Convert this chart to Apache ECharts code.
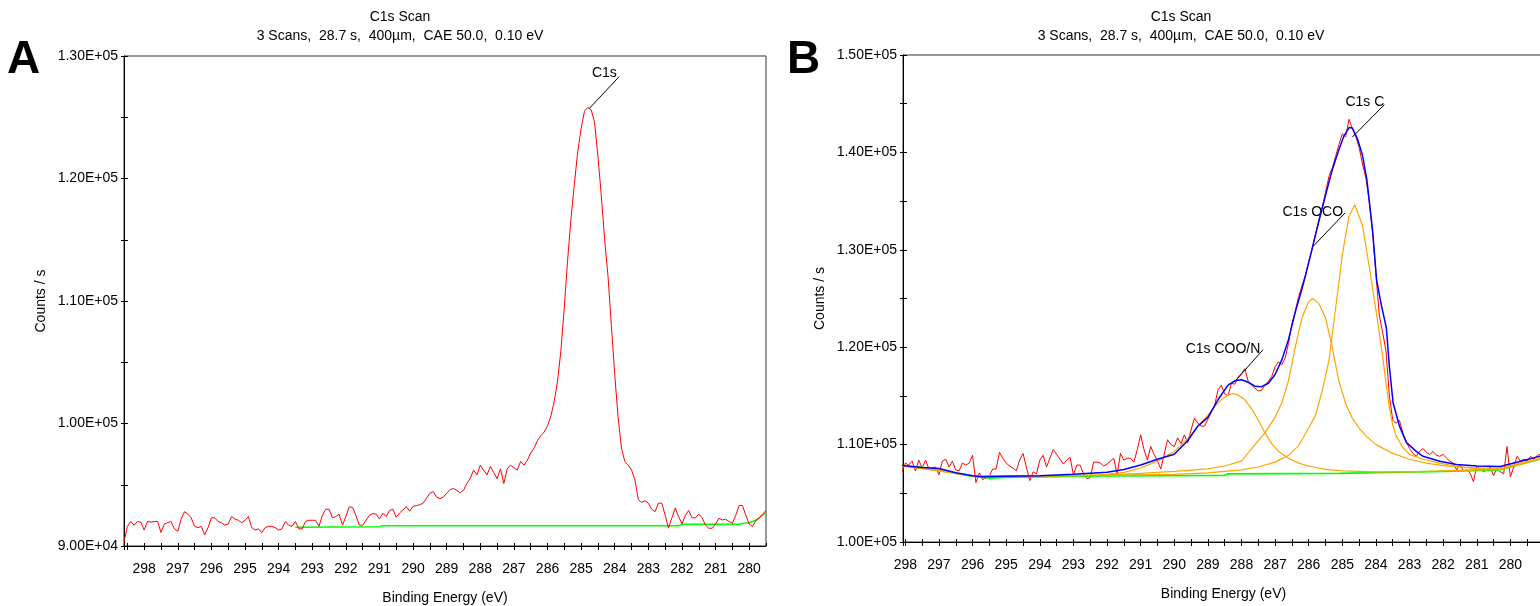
<!DOCTYPE html>
<html>
<head>
<meta charset="utf-8">
<title>C1s Scan</title>
<script src="https://cdn.jsdelivr.net/npm/echarts@6/dist/echarts.min.js"></script>
<style>
  html, body { margin: 0; padding: 0; background: #fff; }
  #chart { width: 1540px; height: 606px; }
</style>
</head>
<body>
<div id="chart"></div>
<script>
// 测量数据，0.10 eV 步长
var stepEV = 0.1;

// A：起点 298.6 eV
var startA = 298.6;
var countsA = [
  90350, 91600, 92000, 91700, 92000, 91950, 91300, 92000, 91950, 92000,
  92000, 91100, 91800, 91900, 92000, 91400, 91200, 92200, 92800, 92600,
  92300, 91600, 91500, 91600, 90900, 91500, 92300, 92300, 92000, 91900,
  91700, 91800, 92400, 92200, 92100, 91900, 92100, 92400, 91500, 91300,
  91400, 91100, 91500, 91600, 91600, 91500, 91300, 91400, 92000, 91700,
  91600, 92000, 91400, 91400, 92000, 92100, 92100, 92100, 91600, 92500,
  93000, 93000, 92300, 92400, 92600, 91700, 92400, 93200, 93150, 92500,
  91700, 91700, 92100, 92500, 92650, 92600, 92200, 92680, 92400, 92900,
  93000, 92350, 92700, 92950, 93200, 92850, 93250, 93300, 93360, 93500,
  93900, 94300, 94450, 94000, 93850, 94000, 94300, 94600, 94700, 94550,
  94350, 94550, 95100, 95500, 96200, 95800, 96600, 96200, 95800, 96500,
  96000, 95500, 96300, 95100, 96300, 96600, 96400, 96200, 96900, 96600,
  97000, 97600, 98000, 98600, 99000, 99300, 99800, 100600, 101800, 103500,
  106000, 109500, 113400, 116800, 119600, 122200, 124100, 125500, 125800, 125600,
  124600, 121800, 118600, 115000, 112000, 108000, 104000, 100500, 98000, 96900,
  96600, 96200, 95400, 93800, 93550, 93700, 93500, 93000, 92800, 93500,
  93500, 92500, 91450, 92300, 93100, 92400, 91800, 92500, 92900, 92300,
  92300, 92600, 92300, 91700, 91450, 91450, 91800, 92270, 92130, 92190,
  92000, 91860, 92500, 93300, 93300, 92500, 91800, 91600, 92100, 92300,
  92600, 92900
];
var backgroundA = [
  [293.5, 91530], [291.0, 91580], [290.9, 91660], [282.1, 91660], [282.0, 91780],
  [280.3, 91780], [280.2, 91830], [280.0, 91900], [279.8, 92100], [279.7, 92300], [279.5, 92750]
];

// B：起点 298.1 eV
var startB = 298.1;
var countsB = [
  107200, 108100, 107900, 108300, 107300, 108400, 107600, 108400, 107500, 107600,
  107700, 106900, 108300, 108500, 107700, 108300, 107400, 107300, 108100, 107900,
  108100, 108900, 106100, 107100, 106400, 106600, 106800, 107500, 107500, 109200,
  108600, 108100, 107800, 107600, 107300, 108400, 109100, 107700, 106300, 107200,
  107000, 108400, 108900, 107700, 108600, 109500, 109000, 108500, 108000, 108400,
  108700, 106900, 107900, 107900, 107000, 106500, 106600, 108200, 108200, 108100,
  107800, 108000, 108300, 108600, 106900, 109100, 108400, 108600, 108600, 108200,
  109500, 111000, 109500, 108400, 109800, 109000, 108300, 107500, 109000, 110500,
  110000, 109800, 110700, 110100, 111000, 110200, 111500, 112700, 112200, 111900,
  111900, 112600, 113300, 114000, 115600, 116100, 115200, 115000, 116300, 116200,
  116900, 117300, 117800, 116500, 116100, 115800, 115500, 115600, 116100, 116500,
  117000, 118000, 118500, 118200, 118900, 120400, 122400, 123700, 125200, 126300,
  127400, 128800, 130000, 131600, 133000, 134300, 135900, 137500, 138400, 139600,
  140800, 141900, 141600, 143400, 142400, 141600, 140500, 138800, 137400, 135000,
  131800, 127500, 123300, 121500, 119600, 115000, 112500, 112200, 112500, 111200,
  110300, 109600, 109100, 108800, 109300, 109600, 109200, 109000, 109300, 108900,
  108800, 109000, 108600, 108300, 108100, 107400, 108000, 107300, 107400, 107100,
  106200, 107800, 107500, 107200, 107400, 107700, 106800, 107600, 107200, 107000,
  109800, 106700, 107700, 108800, 108300, 108500, 108300, 108800, 108500, 108900,
  109000
];
var backgroundB = [
  [298.1, 107850], [297.5, 107650], [297.0, 107420], [296.5, 107050], [296.0, 106750],
  [295.5, 106570], [295.0, 106640], [292.0, 106800], [288.5, 106850], [288.4, 107000],
  [285.1, 107050], [282.0, 107250], [280.3, 107420], [279.0, 108620]
];
var peakCOO = [
  [298.1, 107850], [296.0, 106800], [294.0, 106750], [292.5, 106850], [292.0, 106950],
  [291.5, 107150], [291.0, 107600], [290.5, 108300], [290.0, 109300], [289.6, 110600],
  [289.3, 111900], [289.0, 113000], [288.8, 113900], [288.6, 114600], [288.4, 115100],
  [288.26, 115250], [288.1, 115100], [287.9, 114600], [287.7, 113700], [287.5, 112500],
  [287.3, 111200], [287.1, 110100], [286.9, 109300], [286.6, 108600], [286.3, 108100],
  [286.0, 107800], [285.5, 107450], [285.0, 107300], [284.0, 107200], [283.0, 107200],
  [282.0, 107300], [280.3, 107450], [279.0, 108650]
];
var peakOCO = [
  [298.1, 107850], [297.0, 107400], [296.0, 106800], [294.0, 106800], [292.0, 106900],
  [291.0, 107050], [290.0, 107250], [289.0, 107500], [288.5, 107800], [288.0, 108300],
  [287.6, 110000], [287.3, 111200], [287.0, 112800], [286.8, 114300], [286.6, 116600],
  [286.4, 120000], [286.2, 123000], [286.0, 124700], [285.88, 125000], [285.7, 124500],
  [285.5, 123000], [285.3, 120000], [285.1, 116500], [284.9, 114200], [284.7, 112700],
  [284.5, 111700], [284.3, 110900], [284.0, 110000], [283.5, 109100], [283.0, 108500],
  [282.5, 108100], [282.0, 107850], [281.0, 107600], [280.3, 107600], [279.0, 108700]
];
var peakC = [
  [298.1, 107850], [296.0, 106780], [294.0, 106800], [292.0, 106850], [290.0, 106950],
  [289.0, 107100], [288.0, 107400], [287.5, 107700], [287.0, 108200], [286.6, 108900],
  [286.3, 109900], [286.0, 111700], [285.8, 113000], [285.6, 115500], [285.4, 118600],
  [285.2, 124000], [285.0, 129500], [284.8, 133450], [284.63, 134630], [284.4, 132500],
  [284.2, 128300], [284.0, 123800], [283.9, 121500], [283.8, 119000], [283.7, 116300],
  [283.6, 113800], [283.5, 112000], [283.4, 110900], [283.2, 109700], [283.0, 109000],
  [282.6, 108500], [282.1, 108100], [281.5, 107700], [281.0, 107500], [280.3, 107500],
  [279.0, 108650]
];
var envelopeB = [
  [298.1, 107850], [297.5, 107650], [297.0, 107550], [296.5, 107100], [296.0, 106800],
  [295.7, 106700], [295.0, 106750], [294.0, 106800], [293.0, 106950], [292.0, 107150],
  [291.5, 107450], [291.0, 107900], [290.5, 108500], [290.0, 109000], [289.6, 110400],
  [289.3, 111900], [289.0, 112800], [288.7, 114600], [288.4, 116100], [288.2, 116550],
  [288.0, 116650], [287.8, 116400], [287.6, 116000], [287.4, 115950], [287.2, 116300],
  [287.0, 117200], [286.8, 118700], [286.6, 120800], [286.4, 123600], [286.2, 126000],
  [286.1, 127300], [285.9, 130100], [285.7, 132900], [285.5, 135600], [285.3, 138200],
  [285.1, 140300], [284.95, 141700], [284.8, 142550], [284.7, 142500], [284.55, 141400],
  [284.4, 139700], [284.27, 137200], [284.1, 132000], [283.98, 126900], [283.85, 124500],
  [283.69, 122000], [283.6, 118000], [283.49, 114300], [283.3, 111900], [283.09, 110200],
  [282.8, 109300], [282.6, 108800], [282.1, 108300], [281.6, 107950], [281.0, 107800],
  [280.3, 107760], [279.0, 108900]
];

// 坐标轴
var rangeA = [279.5, 298.6];
var rangeB = [279.0, 298.07];
var yRangeA = [90000, 130000];
var yRangeB = [100000, 150000];

var FONT = "'Liberation Sans', Arial, sans-serif";

function toPairs(start, values) {
  return values.map(function (v, i) {
    return [Math.round((start - i * stepEV) * 10) / 10, v];
  });
}

function sciLabel(v) {
  if (v % 10000 !== 0) return '';
  var e = Math.floor(Math.log10(v) + 1e-9);
  var m = v / Math.pow(10, e);
  return m.toFixed(2) + 'E+' + (e < 10 ? '0' + e : e);
}

function evLabel(v) {
  return Math.abs(v - Math.round(v)) < 1e-6 ? String(Math.round(v)) : '';
}

function xAxisFor(grid, range, main) {
  return {
    type: 'value', gridIndex: grid, position: 'bottom', inverse: true,
    min: range[0], max: range[1], interval: 0.5,
    name: main ? 'Binding Energy (eV)' : '',
    nameLocation: 'middle', nameGap: 45,
    nameTextStyle: { color: '#000', fontSize: 14, fontFamily: FONT },
    axisLine: { show: main, onZero: false, lineStyle: { color: '#000', width: 1 } },
    axisTick: { show: true, inside: !main, length: main ? 4 : 3, lineStyle: { color: '#000' } },
    axisLabel: {
      show: main, formatter: evLabel, showMinLabel: false,
      color: '#000', fontSize: 14, fontFamily: FONT, margin: 16
    },
    splitLine: { show: false }
  };
}

function yAxisFor(grid, range, main) {
  return {
    type: 'value', gridIndex: grid, position: 'left',
    min: range[0], max: range[1], interval: 5000,
    name: main ? 'Counts / s' : '',
    nameLocation: 'middle', nameGap: 76, nameRotate: 90,
    nameTextStyle: { color: '#000', fontSize: 14, fontFamily: FONT },
    axisLine: { show: main, onZero: false, lineStyle: { color: '#000', width: 1 } },
    axisTick: { show: true, inside: !main, length: main ? 3 : 4, lineStyle: { color: '#000' } },
    axisLabel: { show: main, formatter: sciLabel, color: '#000', fontSize: 14, fontFamily: FONT, margin: 6 },
    splitLine: { show: false }
  };
}

function lineSeries(x, y, data, color, width, z) {
  return {
    type: 'line', xAxisIndex: x, yAxisIndex: y, data: data,
    showSymbol: false, symbol: 'none', smooth: false, z: z || 2,
    lineStyle: { color: color, width: width }, silent: true
  };
}

function note(text, at, from, to) {
  return {
    markLine: {
      silent: true, symbol: ['none', 'none'],
      label: { show: false },
      lineStyle: { color: '#000', width: 1, type: 'solid' },
      data: [[{ coord: from }, { coord: to }]]
    },
    markPoint: {
      silent: true,
      data: [{
        coord: at, symbol: 'circle', symbolSize: 0,
        label: { show: true, position: 'inside', formatter: text, color: '#000', fontSize: 14, fontFamily: FONT }
      }]
    }
  };
}

var myChart = echarts.init(document.getElementById('chart'));

var redA = lineSeries(0, 0, toPairs(startA, countsA), '#ff0000', 1, 3);
var noteA = note('C1s', [284.31, 128610], [284.76, 125710], [283.87, 128310]);
redA.markLine = noteA.markLine;
redA.markPoint = noteA.markPoint;

var redB = lineSeries(1, 1, toPairs(startB, countsB), '#ff0000', 1, 2);
var nC = note('C1s C', [284.33, 145120], [284.70, 141580], [283.75, 144900]);
var blueB = lineSeries(1, 1, envelopeB, '#0000ff', 1.5, 6);
blueB.markLine = nC.markLine;
blueB.markPoint = nC.markPoint;
var nOCO = note('C1s OCO', [285.88, 133910], [284.92, 133780], [285.87, 130350]);
var nCOO = note('C1s COO/N', [288.55, 119850], [287.36, 119740], [288.22, 116390]);
var orC = lineSeries(1, 1, peakC, '#ffa500', 1.2, 4);
var orOCO = lineSeries(1, 1, peakOCO, '#ffa500', 1.2, 4);
orOCO.markLine = nOCO.markLine;
orOCO.markPoint = nOCO.markPoint;
var orCOO = lineSeries(1, 1, peakCOO, '#ffa500', 1.2, 4);
orCOO.markLine = nCOO.markLine;
orCOO.markPoint = nCOO.markPoint;

var subText = '3 Scans,  28.7 s,  400\u00b5m,  CAE 50.0,  0.10 eV';

var option = {
  animation: false,
  backgroundColor: '#fff',
  title: [
    { text: 'C1s Scan', subtext: subText, left: 395, top: 5, textAlign: 'center', itemGap: 5,
      textStyle: { color: '#000', fontSize: 14, fontWeight: 'normal', fontFamily: FONT },
      subtextStyle: { color: '#000', fontSize: 14, fontFamily: FONT } },
    { text: 'C1s Scan', subtext: subText, left: 1176, top: 5, textAlign: 'center', itemGap: 5,
      textStyle: { color: '#000', fontSize: 14, fontWeight: 'normal', fontFamily: FONT },
      subtextStyle: { color: '#000', fontSize: 14, fontFamily: FONT } }
  ],
  graphic: [
    { type: 'text', left: 7, top: 37, style: { text: 'A', fill: '#000', font: 'bold 46px ' + FONT } },
    { type: 'text', left: 787, top: 37, style: { text: 'B', fill: '#000', font: 'bold 46px ' + FONT } }
  ],
  grid: [
    { left: 124, top: 56, width: 642, height: 490, show: true, borderColor: '#333', borderWidth: 1,
      backgroundColor: 'transparent', containLabel: false, outerBoundsMode: 'none' },
    { left: 903, top: 55, width: 641, height: 487, show: true, borderColor: '#333', borderWidth: 1,
      backgroundColor: 'transparent', containLabel: false, outerBoundsMode: 'none' }
  ],
  xAxis: [
    xAxisFor(0, rangeA, true), xAxisFor(1, rangeB, true),
    xAxisFor(0, rangeA, false), xAxisFor(1, rangeB, false)
  ],
  yAxis: [
    yAxisFor(0, yRangeA, true), yAxisFor(1, yRangeB, true),
    yAxisFor(0, yRangeA, false), yAxisFor(1, yRangeB, false)
  ],
  series: [
    redA,
    lineSeries(0, 0, backgroundA, '#00ff00', 1.5, 2),
    redB,
    lineSeries(1, 1, backgroundB, '#00ff00', 1.8, 3),
    orCOO, orOCO, orC,
    blueB
  ]
};

myChart.setOption(option);
</script>
</body>
</html>
